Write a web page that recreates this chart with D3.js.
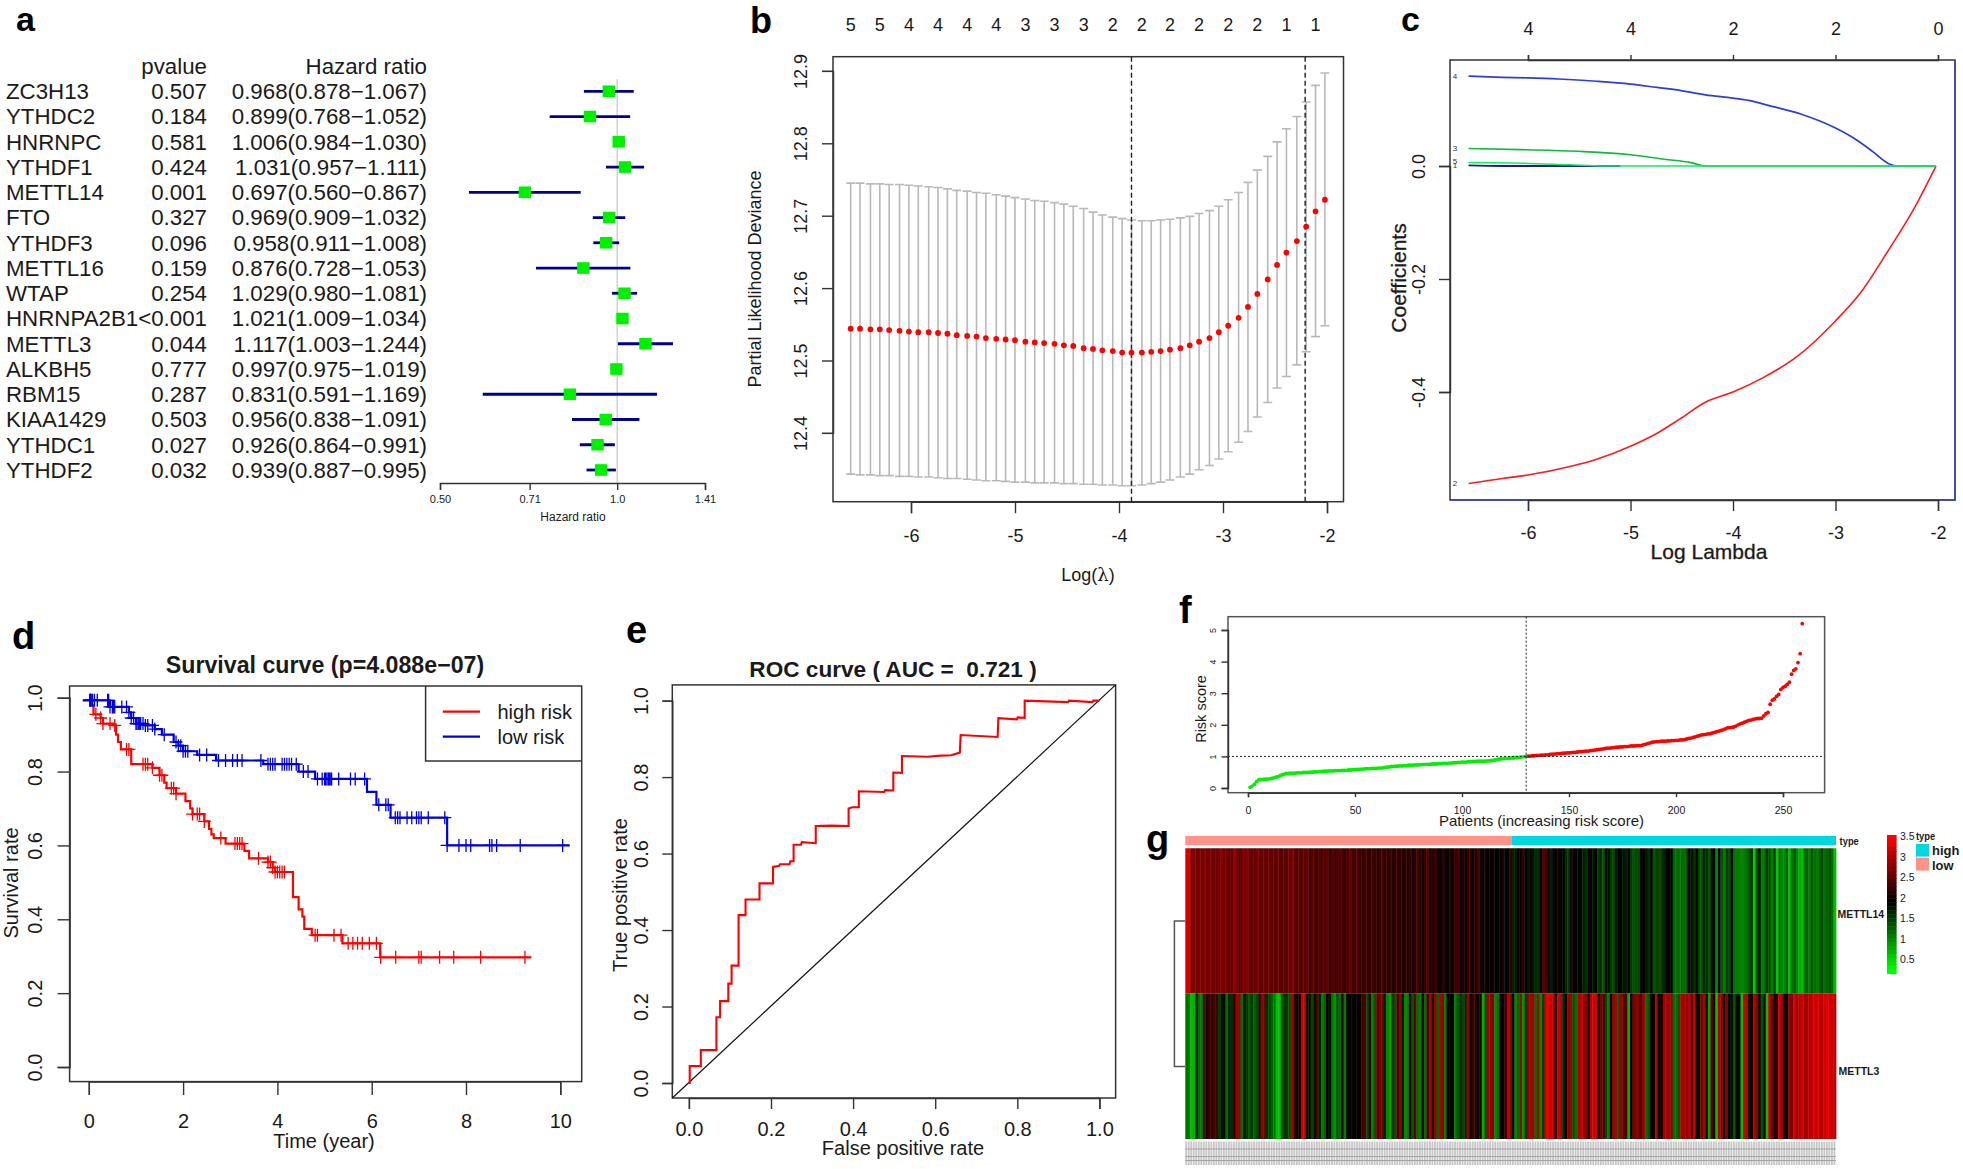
<!DOCTYPE html>
<html><head><meta charset="utf-8">
<script src="https://cdn.jsdelivr.net/npm/d3@7/dist/d3.min.js"></script>
<style>
html,body{margin:0;padding:0;background:#fff;overflow:hidden}
text{font-family:"Liberation Sans",Arial,sans-serif;fill:#1a1a1a;white-space:pre}
.axis path,.axis line{stroke:#333;stroke-width:1.4;fill:none}
</style></head><body>
<script>
// ---------- panel a
const genes=["ZC3H13","YTHDC2","HNRNPC","YTHDF1","METTL14","FTO","YTHDF3","METTL16","WTAP","HNRNPA2B1","METTL3","ALKBH5","RBM15","KIAA1429","YTHDC1","YTHDF2"];
const pvalues=["0.507","0.184","0.581","0.424","0.001","0.327","0.096","0.159","0.254","<0.001","0.044","0.777","0.287","0.503","0.027","0.032"];
const hr=[0.968,0.899,1.006,1.031,0.697,0.969,0.958,0.876,1.029,1.021,1.117,0.997,0.831,0.956,0.926,0.939];
const hrLow=[0.878,0.768,0.984,0.957,0.560,0.909,0.911,0.728,0.980,1.009,1.003,0.975,0.591,0.838,0.864,0.887];
const hrHigh=[1.067,1.052,1.030,1.111,0.867,1.032,1.008,1.053,1.081,1.034,1.244,1.019,1.169,1.091,0.991,0.995];
const hrTicks=[0.5,0.71,1,1.41];
const hrTickLabels=["0.50","0.71","1.0","1.41"];
// ---------- panel b
const logLambda=[-6.58,-6.49,-6.39,-6.30,-6.21,-6.11,-6.02,-5.93,-5.83,-5.74,-5.65,-5.56,-5.46,-5.37,-5.28,-5.18,-5.09,-5.00,-4.90,-4.81,-4.72,-4.62,-4.53,-4.44,-4.34,-4.25,-4.16,-4.06,-3.97,-3.88,-3.78,-3.69,-3.60,-3.51,-3.41,-3.32,-3.23,-3.13,-3.04,-2.95,-2.85,-2.76,-2.67,-2.57,-2.48,-2.39,-2.29,-2.20,-2.11,-2.02];
const cvMean=[12.544,12.544,12.543,12.543,12.542,12.541,12.540,12.539,12.539,12.538,12.537,12.535,12.534,12.533,12.531,12.530,12.529,12.528,12.526,12.525,12.524,12.523,12.521,12.520,12.517,12.516,12.514,12.513,12.511,12.511,12.511,12.512,12.513,12.515,12.517,12.521,12.526,12.531,12.539,12.548,12.559,12.574,12.592,12.612,12.632,12.649,12.665,12.685,12.706,12.722];
const cvUpper=[12.745,12.745,12.744,12.744,12.743,12.743,12.742,12.741,12.740,12.739,12.737,12.735,12.734,12.732,12.731,12.729,12.727,12.725,12.723,12.721,12.720,12.718,12.716,12.713,12.710,12.705,12.701,12.698,12.696,12.694,12.693,12.693,12.694,12.695,12.697,12.699,12.703,12.707,12.713,12.722,12.732,12.746,12.763,12.782,12.802,12.820,12.837,12.857,12.880,12.897];
const cvLower=[12.343,12.342,12.342,12.341,12.341,12.340,12.340,12.339,12.339,12.338,12.337,12.337,12.336,12.335,12.334,12.334,12.333,12.332,12.332,12.331,12.331,12.331,12.330,12.330,12.329,12.329,12.328,12.328,12.327,12.327,12.328,12.330,12.332,12.335,12.339,12.343,12.349,12.355,12.364,12.374,12.387,12.402,12.422,12.442,12.462,12.478,12.494,12.512,12.533,12.548];
const cvCounts=["5","5","4","4","4","4","3","3","3","2","2","2","2","2","2","1","1"];
const cvCountIdx=[0,3,6,9,12,15,18,21,24,27,30,33,36,39,42,45,48];
const lambdaMin=-3.88, lambda1se=-2.21;
// ---------- panel c
const c4x=[-6.58,-6.25,-6.00,-5.70,-5.33,-5.00,-4.74,-4.52,-4.27,-4.00,-3.85,-3.63,-3.34,-3.01,-2.82,-2.64,-2.49,-2.40,-2.02];
const c4y=[0.159,0.157,0.156,0.154,0.150,0.145,0.139,0.134,0.126,0.120,0.116,0.106,0.092,0.068,0.049,0.026,0.005,0,0];
const c2x=[-6.58,-6.25,-6.00,-5.59,-5.33,-5.00,-4.74,-4.52,-4.27,-4.00,-3.71,-3.38,-3.01,-2.75,-2.49,-2.23,-2.02];
const c2y=[-0.562,-0.553,-0.547,-0.532,-0.519,-0.496,-0.473,-0.448,-0.418,-0.400,-0.375,-0.338,-0.276,-0.223,-0.151,-0.074,0];
const c3x=[-6.58,-6.07,-5.51,-5.00,-4.67,-4.41,-4.27,-2.02];
const c3y=[0.031,0.029,0.026,0.020,0.012,0.006,0,0];
const c5x=[-6.58,-6.07,-5.59,-5.26,-2.02];
const c5y=[0.006,0.005,0.002,0,0];
const c1x=[-6.58,-6.25,-5.10];
const c1y=[0.001,0,0];
const cTopLabels=["4","4","2","2","0"];
const cTicksX=[-6,-5,-4,-3,-2];
const cTicksY=[0,-0.2,-0.4];
// ---------- panel d
const redT=[0.08,0.10,0.25,0.30,0.52,0.58,0.62,0.68,0.90,1.35,1.50,1.60,1.65,1.85,2.05,2.15,2.20,2.45,2.55,2.60,2.65,2.90,3.30,3.40,3.80,3.90,3.95,4.33,4.45,4.53,4.57,4.73,5.38,6.18,9.38];
const redS=[0.98,0.955,0.945,0.93,0.925,0.90,0.88,0.86,0.82,0.81,0.79,0.77,0.755,0.74,0.72,0.70,0.685,0.665,0.645,0.63,0.62,0.605,0.585,0.565,0.555,0.54,0.528,0.46,0.427,0.407,0.374,0.357,0.335,0.297,0.297];
const blueT=[-0.13,0.45,0.85,0.90,1.00,1.20,1.40,1.55,1.80,1.90,2.00,2.30,2.70,3.70,4.45,4.80,5.90,6.10,6.40,7.60,10.2];
const blueS=[0.993,0.975,0.96,0.945,0.93,0.925,0.915,0.90,0.88,0.87,0.855,0.845,0.83,0.82,0.80,0.78,0.745,0.71,0.675,0.60,0.60];
const redCensor=[0.15,0.25,0.30,0.45,0.55,0.80,0.85,1.15,1.20,1.25,1.35,1.50,1.55,1.75,1.80,1.85,2.20,2.30,2.35,2.45,2.80,3.10,3.15,3.20,3.25,3.60,3.80,3.85,3.90,3.95,4.00,4.05,4.10,4.15,4.80,4.85,5.20,5.35,5.50,5.60,5.70,5.80,5.95,6.10,6.19,6.51,7.00,7.05,7.44,7.74,8.31,9.25];
const blueCensor=[0.02,0.03,0.04,0.05,0.08,0.12,0.18,0.40,0.42,0.45,0.50,0.52,0.55,0.70,0.80,0.85,0.90,0.95,1.00,1.02,1.05,1.08,1.10,1.15,1.20,1.25,1.35,1.40,1.60,1.85,1.90,1.95,2.00,2.05,2.10,2.35,2.50,2.75,2.90,3.05,3.15,3.25,3.65,3.80,3.85,3.90,3.95,4.10,4.15,4.20,4.25,4.30,4.40,4.55,4.65,4.85,4.95,5.00,5.02,5.05,5.08,5.10,5.12,5.15,5.30,5.55,5.65,5.85,6.15,6.30,6.35,6.50,6.55,6.60,6.75,6.85,6.95,7.00,7.05,7.20,7.55,7.60,7.85,8.00,8.10,8.50,8.55,8.65,9.15,10.05];
// ---------- panel e
const rocFpr=[0,0.002,0.002,0.029,0.029,0.067,0.067,0.076,0.076,0.096,0.096,0.104,0.104,0.121,0.121,0.138,0.138,0.172,0.172,0.205,0.205,0.220,0.222,0.245,0.247,0.255,0.255,0.273,0.275,0.309,0.309,0.346,0.389,0.389,0.398,0.414,0.414,0.476,0.478,0.498,0.498,0.519,0.519,0.581,0.614,0.639,0.660,0.662,0.752,0.754,0.799,0.801,0.818,0.818,0.924,0.926,0.983,0.985,1.0];
const rocTpr=[0,0,0.044,0.044,0.086,0.086,0.172,0.172,0.214,0.214,0.260,0.260,0.307,0.307,0.439,0.439,0.480,0.480,0.522,0.522,0.565,0.568,0.572,0.572,0.580,0.580,0.623,0.623,0.630,0.627,0.672,0.673,0.672,0.718,0.721,0.721,0.763,0.761,0.766,0.765,0.812,0.811,0.855,0.853,0.856,0.857,0.864,0.910,0.905,0.954,0.951,0.956,0.955,1.0,0.996,1.0,0.996,1.0,1.0];
// ---------- panel f
const riskScore=[0.02,0.06,0.12,0.2,0.26,0.27,0.27,0.28,0.28,0.29,0.30,0.32,0.34,0.36,0.39,0.42,0.44,0.46,0.46,0.47,0.47,0.47,0.48,0.48,0.48,0.49,0.49,0.49,0.50,0.50,0.51,0.51,0.52,0.52,0.53,0.53,0.53,0.54,0.54,0.54,0.55,0.55,0.55,0.56,0.56,0.56,0.57,0.57,0.58,0.58,0.59,0.59,0.60,0.60,0.61,0.61,0.61,0.62,0.62,0.62,0.63,0.63,0.64,0.65,0.66,0.67,0.68,0.68,0.69,0.69,0.70,0.70,0.71,0.71,0.72,0.72,0.72,0.73,0.73,0.73,0.74,0.74,0.75,0.75,0.75,0.76,0.76,0.76,0.77,0.77,0.78,0.78,0.78,0.79,0.79,0.80,0.80,0.81,0.81,0.82,0.82,0.82,0.83,0.83,0.84,0.84,0.85,0.85,0.85,0.85,0.85,0.86,0.86,0.87,0.88,0.90,0.91,0.92,0.93,0.93,0.94,0.94,0.95,0.95,0.96,0.96,0.97,0.98,0.99,1.0,1.01,1.01,1.02,1.02,1.03,1.03,1.04,1.04,1.05,1.05,1.06,1.07,1.07,1.08,1.09,1.09,1.10,1.10,1.11,1.11,1.12,1.13,1.13,1.14,1.15,1.15,1.16,1.17,1.17,1.18,1.19,1.20,1.21,1.22,1.23,1.24,1.25,1.26,1.26,1.27,1.28,1.29,1.29,1.30,1.30,1.31,1.31,1.32,1.33,1.33,1.33,1.34,1.34,1.35,1.37,1.39,1.41,1.43,1.45,1.46,1.47,1.47,1.48,1.48,1.48,1.49,1.49,1.50,1.50,1.51,1.51,1.52,1.52,1.53,1.55,1.57,1.58,1.60,1.62,1.64,1.66,1.68,1.69,1.70,1.71,1.72,1.74,1.76,1.78,1.80,1.82,1.84,1.87,1.90,1.91,1.92,1.93,1.96,2.0,2.03,2.05,2.08,2.11,2.14,2.15,2.17,2.19,2.20,2.20,2.21,2.28,2.35,2.39,2.65,2.78,2.82,2.90,2.96,3.12,3.18,3.22,3.28,3.35,3.60,3.72,3.77,3.97,4.25,5.2];
const riskCut=130;
// ---------- panel g
const mettl14=[3.5,3.5,2.8,2.9,2.7,2.8,2.8,2.9,2.7,2.8,2.8,2.7,2.7,2.8,2.9,2.7,2.8,2.7,2.7,3.0,2.8,2.6,2.7,2.8,2.9,2.7,2.6,2.7,2.8,2.7,2.6,2.7,2.6,2.7,2.6,2.6,2.7,2.6,2.5,2.6,2.6,2.7,2.8,2.6,2.5,2.6,2.5,2.6,2.7,2.4,2.5,2.5,2.4,2.5,2.4,2.5,2.6,2.3,2.5,2.4,2.4,2.5,2.4,2.3,2.4,2.7,2.3,2.4,2.5,2.3,2.2,2.4,2.3,2.2,2.4,2.3,2.2,2.3,2.4,2.2,2.2,2.3,2.1,2.2,2.3,2.2,2.1,2.2,
2.1,2.3,2.0,2.2,2.4,2.1,2.0,2.3,2.5,2.0,2.2,2.3,2.0,1.9,2.2,2.0,1.9,2.1,2.0,2.3,2.4,1.9,2.1,2.0,2.2,2.3,1.9,2.1,2.4,2.0,1.9,2.0,1.85,1.9,2.0,1.85,1.8,1.85,2.1,1.8,1.9,2.2,1.6,1.7,1.85,1.8,2.3,1.8,1.7,2.0,1.7,1.5,1.5,1.8,2.5,2.4,2.0,1.6,1.8,1.9,2.0,1.85,1.9,1.5,1.4,2.1,1.9,1.85,1.8,1.9,1.6,1.5,1.85,1.8,1.7,1.9,1.4,1.5,1.2,1.9,1.7,1.4,1.3,1.7,1.85,1.8,
1.7,1.6,1.85,1.4,1.2,1.3,1.3,1.85,1.9,1.7,1.5,1.9,1.2,1.4,1.3,1.4,1.6,1.85,1.85,1.9,1.1,1.0,1.0,1.0,1.0,1.2,1.9,1.7,1.5,1.85,1.3,1.2,1.6,1.5,1.2,1.7,1.8,0.8,1.85,1.2,0.9,1.4,1.2,1.85,1.0,0.9,0.9,0.8,0.9,1.0,1.2,1.4,0.3,1.2,1.7,0.9,1.0,1.4,1.2,0.9,1.4,0.3,0.9,0.8,0.8,1.1,0.4,1.0,1.2,0.8,0.5,0.4,1.0,1.1,0.9,1.2,1.0,0.9,1.1,1.3,1.0,1.1,1.2,1.0,0.4];
const mettl3=[1.0,0.9,0.4,0.5,1.6,1.0,0.9,2.6,1.7,2.3,2.3,2.4,2.3,1.4,1.7,2.0,1.0,1.6,1.5,2.2,3.0,3.0,1.0,1.7,1.4,1.2,1.4,1.1,1.3,1.6,3.0,2.7,1.5,1.3,1.1,0.9,0.4,0.4,1.2,1.5,1.4,1.2,3.2,2.2,2.0,1.8,3.5,3.4,2.0,1.7,1.3,1.8,2.5,1.6,0.9,1.1,1.9,1.7,1.0,0.7,1.2,1.0,2.2,0.9,1.8,1.9,1.8,1.85,1.9,1.85,2.4,2.5,1.3,2.2,0.9,1.2,2.6,2.8,2.7,1.6,0.8,0.6,1.5,1.2,2.4,3.0,1.7,0.8,
0.9,1.85,1.2,2.6,1.0,0.9,1.85,1.0,2.4,3.2,2.0,3.0,1.1,3.2,3.0,0.9,1.85,1.9,1.85,0.9,1.2,1.5,1.3,1.5,3.0,1.85,2.3,2.2,1.9,2.1,0.5,1.2,3.1,3.0,2.9,0.8,1.0,1.85,1.9,2.3,3.3,2.9,1.85,0.8,1.1,3.1,0.7,1.4,3.0,3.2,3.1,1.0,3.2,0.8,1.4,3.5,3.6,3.5,3.4,1.9,3.5,3.3,1.5,1.9,3.0,3.1,1.2,1.0,3.2,3.3,3.2,2.9,1.7,3.3,3.5,3.5,1.9,2.8,2.5,1.3,0.9,1.9,3.0,3.2,1.2,3.0,
2.6,2.5,0.5,1.85,2.8,2.9,2.8,2.5,3.2,1.0,1.2,2.0,1.85,3.3,1.9,1.85,3.1,3.2,3.1,3.0,1.0,1.0,1.2,3.2,3.1,3.0,3.3,2.6,3.4,1.9,1.7,2.8,3.2,1.85,0.6,2.6,1.9,0.4,3.2,3.0,1.9,2.9,1.85,1.7,1.2,1.9,1.85,0.4,3.4,3.3,2.0,1.85,3.3,2.9,2.0,1.2,1.9,0.4,3.3,2.7,1.9,2.2,3.5,3.0,2.0,1.85,3.0,2.8,3.5,3.1,3.3,3.5,3.0,3.2,3.3,3.4,3.5,3.5,3.4,3.3,3.5,3.6,3.5,3.5,3.4];
const heatLegendTicks=[3.5,3,2.5,2,1.5,1,0.5];
const heatLegendSteps=[3.5,3.4,3.3,3.2,3.1,3,2.9,2.8,2.7,2.6,2.5,2.4,2.3,2.2,2.1,2,1.9,1.8,1.7,1.6,1.5,1.4,1.3,1.2,1.1,1,0.9,0.8,0.7,0.6,0.5,0.4,0.3,0.2,0.12];

const W=1963,H=1169;
const svg=d3.select("body").append("svg").attr("width",W).attr("height",H).style("display","block");
function txt(x,y,s,o={}){
  const t=svg.append("text").attr("x",x).attr("y",y).text(s)
    .attr("font-size",o.size||18).attr("text-anchor",o.anchor||"start");
  if(o.bold)t.attr("font-weight","bold");
  if(o.mid!==false)t.attr("dy",o.dy===undefined?"0.35em":o.dy);
  if(o.rot)t.attr("transform",`rotate(${o.rot} ${x} ${y})`);
  if(o.fill)t.style("fill",o.fill);
  if(o.sx)t.attr("transform",`translate(${x} ${y}) scale(${o.sx},1) translate(${-x} ${-y})`);
  return t;
}
function frame(x0,x1,y0,y1,col){
  svg.append("rect").attr("x",x0).attr("y",y0).attr("width",x1-x0).attr("height",y1-y0)
    .attr("fill","none").attr("stroke",col||"#333").attr("stroke-width",1.5);
}
function axBottom(sc,ticks,y,len,pad,size,fmt){
  const a=d3.axisBottom(sc).tickValues(ticks).tickSize(len).tickPadding(pad).tickFormat(fmt||(d=>d));
  const g=svg.append("g").attr("class","axis").attr("transform",`translate(0,${y})`).call(a);
  g.selectAll("text").attr("font-size",size).style("font-family",'"Liberation Sans",Arial,sans-serif').style("fill","#1a1a1a");
  return g;
}
function axLeft(sc,ticks,x,len,off,size,fmt){
  const a=d3.axisLeft(sc).tickValues(ticks).tickSize(len).tickFormat(fmt||(d=>d));
  const g=svg.append("g").attr("class","axis").attr("transform",`translate(${x},0)`).call(a);
  g.selectAll("text").attr("font-size",size).attr("transform","rotate(-90)").attr("text-anchor","middle")
    .attr("x",0).attr("y",-off).attr("dy",0).style("font-family",'"Liberation Sans",Arial,sans-serif').style("fill","#1a1a1a");
  return g;
}
// panel letters
[["a",16,31,34],["b",750,33,36],["c",1401,31,34],["d",12,648.5,38],["e",626,643,38],["f",1179,623,38],["g",1146,852,38]].forEach(d=>{
  svg.append("text").attr("x",d[1]).attr("y",d[2]).text(d[0]).attr("font-size",d[3]).attr("font-weight","bold").style("fill","#000");
});

// ===== a
(function(){
  const rowY=d3.scalePoint().domain(genes).range([91.3,470]);
  const x=d3.scaleLog().base(2).domain([0.5,1.41]).range([440,705]);
  txt(207,66,"pvalue",{size:22.3,anchor:"end"});
  txt(427,66,"Hazard ratio",{size:22.3,anchor:"end"});
  svg.append("line").attr("x1",x(1)).attr("x2",x(1)).attr("y1",79).attr("y2",483).attr("stroke","#c8c8c8").attr("stroke-width",1.2);
  genes.forEach((g,i)=>{
    const y=rowY(g);
    txt(6,y,g,{size:22.3});
    txt(207,y,pvalues[i],{size:22.3,anchor:"end"});
    txt(427,y,hr[i].toFixed(3)+"("+hrLow[i].toFixed(3)+"\u2212"+hrHigh[i].toFixed(3)+")",{size:22.3,anchor:"end"});
    svg.append("line").attr("x1",x(hrLow[i])).attr("x2",x(hrHigh[i])).attr("y1",y).attr("y2",y).attr("stroke","#00008b").attr("stroke-width",2.8);
    svg.append("rect").attr("x",x(hr[i])-6.2).attr("y",y-5.8).attr("width",12.4).attr("height",11.6).attr("fill","#00f000");
  });
  axBottom(x,hrTicks,483,7,5,11,(d,i)=>hrTickLabels[i]);
  txt(573,517,"Hazard ratio",{size:12,anchor:"middle"});
})();

// ===== b
(function(){
  const x=d3.scaleLinear().domain([-6,-2]).range([911,1327]);
  const y=d3.scaleLinear().domain([12.4,12.9]).range([432.9,70.9]);
  frame(833,1343.5,56.7,501.7);
  logLambda.forEach((l,i)=>{
    const px=x(l);
    svg.append("path").attr("d",`M${px-4.5},${y(cvUpper[i])}H${px+4.5}M${px},${y(cvUpper[i])}V${y(cvLower[i])}M${px-4.5},${y(cvLower[i])}H${px+4.5}`)
      .attr("fill","none").attr("stroke","#b9b9b9").attr("stroke-width",1.6);
  });
  [lambdaMin,lambda1se].forEach(l=>svg.append("line").attr("x1",x(l)).attr("x2",x(l)).attr("y1",56.7).attr("y2",501.7).attr("stroke","#222").attr("stroke-width",1.4).attr("stroke-dasharray","5,3"));
  svg.selectAll(".cvp").data(cvMean).enter().append("circle").attr("cx",(d,i)=>x(logLambda[i])).attr("cy",d=>y(d)).attr("r",2.9).attr("fill","#ff0000");
  axBottom(x,[-6,-5,-4,-3,-2],501.7,11.5,16,18);
  axLeft(y,[12.4,12.5,12.6,12.7,12.8,12.9],833,11,26,18,d=>d.toFixed(1));
  cvCounts.forEach((c,i)=>txt(x(logLambda[cvCountIdx[i]]),25,c,{size:18,anchor:"middle"}));
  txt(755,279,"Partial Likelihood Deviance",{size:18,anchor:"middle",rot:-90});
  const t=txt(1088,575,"",{size:18,anchor:"middle"});
  t.append("tspan").text("Log(");
  t.append("tspan").text("\u03bb").style("font-family",'"DejaVu Serif",serif');
  t.append("tspan").text(")");
})();

// ===== c
(function(){
  const x=d3.scaleLinear().domain([-6,-2]).range([1528,1938]);
  const y=d3.scaleLinear().domain([-0.4,0]).range([392,166]);
  const ln=d3.line().x(d=>x(d[0])).y(d=>y(d[1])).curve(d3.curveMonotoneX);
  svg.append("rect").attr("x",1450).attr("y",60).attr("width",505).attr("height",440).attr("fill","none").attr("stroke","#333").attr("stroke-width",1.5);
  svg.append("path").attr("d","M1450,500H1955V60").attr("fill","none").attr("stroke","#3a42c8").attr("stroke-width",1.3);
  const draw=(xs,ys,c,w)=>svg.append("path").attr("d",ln(xs.map((v,i)=>[v,ys[i]]))).attr("fill","none").attr("stroke",c).attr("stroke-width",w||1.5);
  draw(c1x,c1y,"#1a1aa8",1.8);
  draw(c4x,c4y,"#2a3de0",1.7);
  draw(c2x,c2y,"#ff1a1a",1.6);
  draw(c3x,c3y,"#0bbd3a",1.6);
  draw(c5x,c5y,"#10f060",1.5);
  axBottom(x,cTicksX,500,11,15.5,18);
  const top=d3.axisTop(x).tickValues(cTicksX).tickSize(5).tickPadding(20).tickFormat((d,i)=>cTopLabels[i]);
  const tg=svg.append("g").attr("class","axis").attr("transform","translate(0,60)").call(top);
  tg.selectAll("text").attr("font-size",18).style("font-family",'"Liberation Sans",Arial,sans-serif').style("fill","#1a1a1a");
  axLeft(y,cTicksY,1450,11,25,18,d=>d===0?"0.0":d.toFixed(1));
  [["4",0.159],["3",0.031],["5",0.008],["1",0.002],["2",-0.562]].forEach(d=>txt(1455,y(d[1]),d[0],{size:8,anchor:"middle",fill:"#333"}));
  txt(1709,552,"Log Lambda",{size:21,anchor:"middle"}).style("stroke","#1a1a1a").style("stroke-width",0.3);
  txt(1399,278,"Coefficients",{size:21,anchor:"middle",rot:-90}).style("stroke","#1a1a1a").style("stroke-width",0.3);
})();

// ===== d
(function(){
  const x=d3.scaleLinear().domain([0,10]).range([88.8,560.3]);
  const y=d3.scaleLinear().domain([0,1]).range([1067,697.7]);
  frame(69.6,581.7,686,1081.6);
  const ln=d3.line().x(d=>x(d[0])).y(d=>y(d[1])).curve(d3.curveStepAfter);
  const series=[[redT,redS,redCensor,"#ff0000"],[blueT,blueS,blueCensor,"#0000dd"]];
  series.forEach(([t,s,cens,col])=>{
    svg.append("path").attr("d",ln(t.map((v,i)=>[v,s[i]]))).attr("fill","none").attr("stroke",col).attr("stroke-width",2.2);
    const bis=d3.bisector(d=>d).right;
    cens.forEach(c=>{
      const v=s[Math.max(0,bis(t,c)-1)];
      svg.append("path").attr("d",`M${x(c)-6.5},${y(v)}H${x(c)+6.5}M${x(c)},${y(v)-6.5}V${y(v)+6.5}`).attr("stroke",col).attr("stroke-width",1.3).attr("fill","none");
    });
  });
  axBottom(x,[0,2,4,6,8,10],1081.6,13.5,18.5,20);
  axLeft(y,[0,0.2,0.4,0.6,0.8,1],69.6,12,28,20,d=>d.toFixed(1));
  txt(325,665,"Survival curve (p=4.088e\u221207)",{size:23.2,bold:true,anchor:"middle"});
  txt(324,1140.5,"Time (year)",{size:20,anchor:"middle"});
  txt(10.5,883,"Survival rate",{size:20,anchor:"middle",rot:-90});
  svg.append("path").attr("d","M581.7,761H425.6V686").attr("fill","none").attr("stroke","#333").attr("stroke-width",1.5);
  [["high risk","#ff0000",711.6],["low risk","#0000dd",736.6]].forEach(d=>{
    svg.append("line").attr("x1",442.8).attr("x2",480).attr("y1",d[2]).attr("y2",d[2]).attr("stroke",d[1]).attr("stroke-width",2.2);
    txt(497.5,d[2],d[0],{size:20});
  });
})();

// ===== e
(function(){
  const x=d3.scaleLinear().domain([0,1]).range([688.9,1099.4]);
  const y=d3.scaleLinear().domain([0,1]).range([1083,700.6]);
  frame(672.3,1115.6,684.9,1098);
  svg.append("line").attr("x1",672.3).attr("y1",1098).attr("x2",1115.6).attr("y2",684.9).attr("stroke","#111").attr("stroke-width",1.2);
  svg.append("path").attr("d",d3.line().x(d=>x(d[0])).y(d=>y(d[1]))(rocFpr.map((v,i)=>[v,rocTpr[i]]))).attr("fill","none").attr("stroke","#ff0000").attr("stroke-width",2.1);
  axBottom(x,[0,0.2,0.4,0.6,0.8,1],1098,11,12.7,20,d=>d.toFixed(1));
  axLeft(y,[0,0.2,0.4,0.6,0.8,1],672.3,10,24,20,d=>d.toFixed(1));
  txt(893,669,"ROC curve ( AUC =  0.721 )",{size:22.6,bold:true,anchor:"middle"});
  txt(903,1147.6,"False positive rate",{size:20,anchor:"middle"});
  txt(620,895,"True positive rate",{size:20,anchor:"middle",rot:-90});
})();

// ===== f
(function(){
  const x=d3.scaleLinear().domain([0,250]).range([1248,1783]);
  const y=d3.scaleLinear().domain([0,5]).range([788,630]);
  frame(1228,1824.6,616.7,792.7,"#555");
  svg.selectAll(".rp").data(riskScore).enter().append("circle").attr("cx",(d,i)=>x(i+1)).attr("cy",d=>y(d)).attr("r",1.9).attr("fill",(d,i)=>i<riskCut?"#00f000":"#ff0000");
  svg.append("line").attr("x1",x(riskCut)).attr("x2",x(riskCut)).attr("y1",616.7).attr("y2",792.7).attr("stroke","#222").attr("stroke-width",1).attr("stroke-dasharray","2,2");
  svg.append("line").attr("x1",1228).attr("x2",1824.6).attr("y1",y(1)).attr("y2",y(1)).attr("stroke","#222").attr("stroke-width",1).attr("stroke-dasharray","2,2");
  axBottom(x,[0,50,100,150,200,250],792.7,4.5,9.5,10.5);
  axLeft(y,[0,1,2,3,4,5],1228,6.5,12,9);
  txt(1541.5,820.5,"Patients (increasing risk score)",{size:15,anchor:"middle"});
  txt(1201,709,"Risk score",{size:14.5,anchor:"middle",rot:-90});
})();

// ===== g
(function(){
  const x=d3.scaleBand().domain(d3.range(mettl14.length)).range([1185.3,1836]);
  const rowTop=848.3,rowMid=993.5,rowBot=1139;
  const legendColor=d3.scaleLinear().domain([0.12,1.85,3.5]).range(["#00ff00","#000000","#ff0000"]);
  const cellColor=d3.scaleLinear().domain([-0.1,1.85,3.85]).range(["#00ff00","#000000","#ff0000"]);
  const cut=x(130);
  svg.append("rect").attr("x",1185.3).attr("y",836).attr("width",cut-1185.3).attr("height",9.3).attr("fill","#ff9289");
  svg.append("rect").attr("x",cut).attr("y",836).attr("width",1836-cut).attr("height",9.3).attr("fill","#00d7e0");
  [[mettl14,rowTop,rowMid],[mettl3,rowMid,rowBot]].forEach(([vals,t,b])=>{
    svg.append("g").selectAll("rect").data(vals).enter().append("rect")
      .attr("x",(d,i)=>x(i)).attr("y",t).attr("width",x.bandwidth()+0.4).attr("height",b-t)
      .attr("fill",d=>cellColor(d));
  });
  // sample labels band
  svg.append("g").selectAll("rect").data(mettl14).enter().append("rect")
    .attr("x",(d,i)=>x(i)).attr("y",1141.5).attr("width",x.bandwidth()-0.7).attr("height",23.5).attr("fill","#c6c6c6");
  [1149,1156.5,1160.5].forEach(yy=>svg.append("line").attr("x1",1185.3).attr("x2",1836).attr("y1",yy).attr("y2",yy).attr("stroke","#a4a4a4").attr("stroke-width",1.2));
  // dendrogram
  svg.append("path").attr("d","M1185,921H1174.4V1066.4H1185").attr("fill","none").attr("stroke","#555").attr("stroke-width",1.5);
  txt(1839.6,841,"type",{size:11,bold:true,sx:0.85});
  txt(1837.5,914,"METTL14",{size:10.5,bold:true});
  txt(1838.5,1071.5,"METTL3",{size:10.5,bold:true});
  // colour key
  const ky=d3.scaleLinear().domain([3.5,0.5]).range([836.7,959.7]);
  const stepH=(ky(0.12)-ky(3.5))/heatLegendSteps.length;
  svg.append("g").selectAll("rect").data(heatLegendSteps).enter().append("rect")
    .attr("x",1887).attr("y",(d,i)=>835+i*stepH).attr("width",9.6).attr("height",stepH+0.5).attr("fill",d=>legendColor(d));
  heatLegendTicks.forEach(v=>txt(1900,ky(v),String(v),{size:10.5}));
  txt(1916,836,"type",{size:11,bold:true,sx:0.85});
  svg.append("rect").attr("x",1916).attr("y",844).attr("width",13).attr("height",12.6).attr("fill","#00d7e0");
  svg.append("rect").attr("x",1916).attr("y",857.6).attr("width",13).attr("height",13).attr("fill","#ff9289");
  txt(1932,850,"high",{size:13,bold:true});
  txt(1932,865,"low",{size:13,bold:true});
})();
</script>
</body></html>
